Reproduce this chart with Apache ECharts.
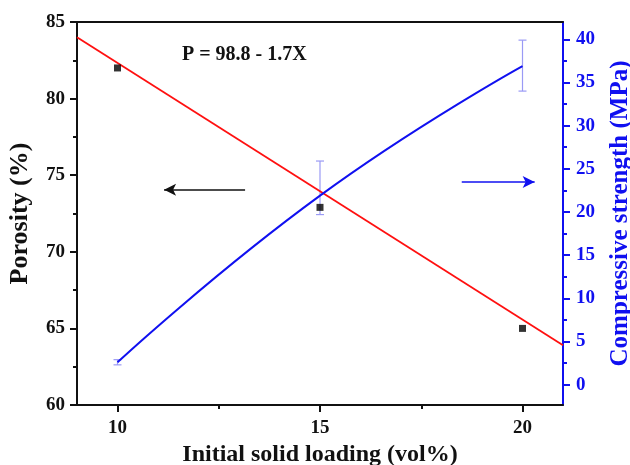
<!DOCTYPE html>
<html>
<head>
<meta charset="utf-8">
<script src="https://cdn.jsdelivr.net/npm/echarts@6/dist/echarts.min.js"></script>
<style>html,body{margin:0;padding:0;background:#fff}</style>
</head>
<body>
<div id="main" style="width:630px;height:465px"></div>
<script>
// values
const loading = [10, 15, 20];
const porosity = [82.0, 72.9, 65.0];
const fitLine = [[9, 84.0], [21, 63.9]];
const strength = [2.6, 21.9, 36.9];
const strengthLow = [2.3, 19.7, 34.0];
const strengthHigh = [2.9, 25.9, 39.9];
const xLabels = [10, 15, 20];
const xMinor = [12.5, 17.5];
const rightLabels = [0, 5, 10, 15, 20, 25, 30, 35, 40];
const rightMinor = [2.5, 7.5, 12.5, 17.5, 22.5, 27.5, 32.5, 37.5];

const FONT = '"Liberation Serif", "Times New Roman", serif';
const BLUE = '#1010f0';

var myChart = echarts.init(document.getElementById('main'), null, { renderer: 'canvas' });

const xMin = 9, xMax = 21, rMin = -2.35, rMax = 42;

let option = {
  backgroundColor: '#fff',
  animation: false,
  grid: { left: 77, right: 67, top: 22, bottom: 60, containLabel: false, outerBoundsMode: 'none' },
  xAxis: [
    {
      type: 'value', min: xMin, max: xMax,
      name: 'Initial solid loading (vol%)',
      nameLocation: 'middle', nameGap: 38,
      nameTextStyle: { fontFamily: FONT, fontWeight: 'bold', fontSize: 24, color: '#111' },
      axisLine: { onZero: false, lineStyle: { color: '#111', width: 2 } },
      axisTick: { customValues: xLabels, length: 7, lineStyle: { color: '#111', width: 2 } },
      axisLabel: { customValues: xLabels, margin: 14, fontFamily: FONT, fontWeight: 'bold', fontSize: 19, color: '#111' },
      splitLine: { show: false }
    },
    {
      type: 'value', min: xMin, max: xMax, position: 'bottom',
      axisLine: { show: false, onZero: false },
      axisTick: { customValues: xMinor, length: 4, lineStyle: { color: '#111', width: 2 } },
      axisLabel: { show: false },
      splitLine: { show: false }
    },
    {
      type: 'value', min: xMin, max: xMax, position: 'top',
      axisLine: { onZero: false, lineStyle: { color: '#111', width: 2 } },
      axisTick: { show: false },
      axisLabel: { show: false },
      splitLine: { show: false }
    }
  ],
  yAxis: [
    {
      type: 'value', min: 60, max: 85, interval: 5, position: 'left',
      name: 'Porosity (%)',
      nameLocation: 'middle', nameGap: 44,
      nameTextStyle: { fontFamily: FONT, fontWeight: 'bold', fontSize: 26, color: '#111' },
      axisLine: { show: true, onZero: false, lineStyle: { color: '#111', width: 2 } },
      axisTick: { length: 7, lineStyle: { color: '#111', width: 2 } },
      minorTick: { show: true, splitNumber: 2, length: 4, lineStyle: { color: '#111', width: 2 } },
      axisLabel: { margin: 12, fontFamily: FONT, fontWeight: 'bold', fontSize: 19, color: '#111' },
      splitLine: { show: false }
    },
    {
      type: 'value', min: rMin, max: rMax, position: 'right',
      name: 'Compressive strength (MPa)',
      nameLocation: 'middle', nameGap: 45,
      nameTextStyle: { fontFamily: FONT, fontWeight: 'bold', fontSize: 25, color: BLUE },
      axisLine: { show: true, onZero: false, lineStyle: { color: BLUE, width: 2 } },
      axisTick: { customValues: rightLabels, length: 7, lineStyle: { color: BLUE, width: 2 } },
      axisLabel: { customValues: rightLabels, margin: 13, fontFamily: FONT, fontWeight: 'bold', fontSize: 19, color: BLUE },
      splitLine: { show: false }
    },
    {
      type: 'value', min: rMin, max: rMax, position: 'right',
      axisLine: { show: false, onZero: false },
      axisTick: { customValues: rightMinor, length: 4, lineStyle: { color: BLUE, width: 2 } },
      axisLabel: { show: false },
      splitLine: { show: false }
    }
  ],
  graphic: [
    {
      type: 'text', left: 182, top: 45,
      style: { text: 'P = 98.8 - 1.7X', font: 'bold 20px ' + FONT, fill: '#111' }
    }
  ],
  series: [
    {
      type: 'line', xAxisIndex: 0, yAxisIndex: 0,
      data: fitLine,
      showSymbol: false,
      lineStyle: { color: '#ff1010', width: 1.8 },
      z: 3,
      markLine: {
        silent: true,
        symbol: ['arrow', 'none'],
        symbolSize: [9, 12],
        label: { show: false },
        lineStyle: { color: '#111', width: 1.5, type: 'solid' },
        data: [
          [{ coord: [11.15, 74.05] }, { coord: [13.15, 74.05] }],
          [{ coord: [20.3, 74.55], lineStyle: { color: BLUE }, symbol: 'arrow' }, { coord: [18.5, 74.55], symbol: 'none' }]
        ]
      }
    },
    {
      type: 'scatter', xAxisIndex: 0, yAxisIndex: 0,
      data: loading.map((x, i) => [x, porosity[i]]),
      symbol: 'rect', symbolSize: 7,
      itemStyle: { color: '#000' },
      z: 4
    },
    {
      type: 'custom', xAxisIndex: 0, yAxisIndex: 1,
      data: loading.map((x, i) => [x, strengthLow[i], strengthHigh[i]]),
      renderItem: function (params, api) {
        const lo = api.coord([api.value(0), api.value(1)]);
        const hi = api.coord([api.value(0), api.value(2)]);
        const w = 4;
        const st = { stroke: '#9a9af5', lineWidth: 1.2 };
        return {
          type: 'group',
          children: [
            { type: 'line', shape: { x1: lo[0], y1: lo[1], x2: hi[0], y2: hi[1] }, style: st },
            { type: 'line', shape: { x1: lo[0] - w, y1: lo[1], x2: lo[0] + w, y2: lo[1] }, style: st },
            { type: 'line', shape: { x1: hi[0] - w, y1: hi[1], x2: hi[0] + w, y2: hi[1] }, style: st }
          ]
        };
      },
      z: 2
    },
    {
      type: 'line', xAxisIndex: 0, yAxisIndex: 1,
      data: loading.map((x, i) => [x, strength[i]]),
      smooth: true,
      showSymbol: false,
      lineStyle: { color: BLUE, width: 2 },
      z: 3
    }
  ]
};
myChart.setOption(option);
</script>
</body>
</html>
